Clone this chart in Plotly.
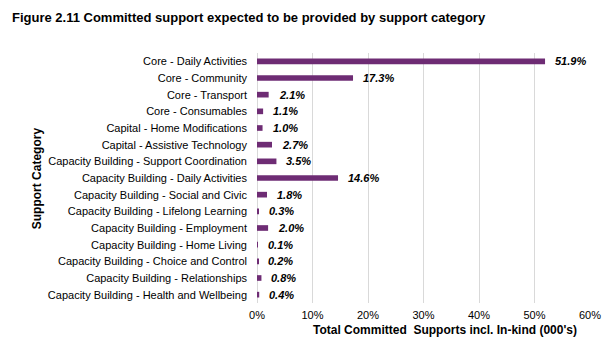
import plotly.graph_objects as go

categories = [
    "Core - Daily Activities",
    "Core - Community",
    "Core - Transport",
    "Core - Consumables",
    "Capital - Home Modifications",
    "Capital - Assistive Technology",
    "Capacity Building - Support Coordination",
    "Capacity Building - Daily Activities",
    "Capacity Building - Social and Civic",
    "Capacity Building - Lifelong Learning",
    "Capacity Building - Employment",
    "Capacity Building - Home Living",
    "Capacity Building - Choice and Control",
    "Capacity Building - Relationships",
    "Capacity Building - Health and Wellbeing",
]
values = [51.9, 17.3, 2.1, 1.1, 1.0, 2.7, 3.5, 14.6, 1.8, 0.3, 2.0, 0.1, 0.2, 0.8, 0.4]
x_ticks = [0, 10, 20, 30, 40, 50, 60]
x_tick_labels = ["0%", "10%", "20%", "30%", "40%", "50%", "60%"]

FONT = "Liberation Sans, Arial, sans-serif"
BAR = "#6E2C74"

fig = go.Figure()
fig.add_trace(go.Bar(
    x=values, y=categories, orientation="h",
    marker=dict(color=BAR, line=dict(width=0)),
    hoverinfo="skip",
))

for v, c in zip(values, categories):
    fig.add_annotation(
        x=v, y=c, xref="x", yref="y", text="<b><i>%.1f%%</i></b>",
        showarrow=False, xanchor="left", yanchor="middle", xshift=8,
        font=dict(family=FONT, size=11, color="#000000"),
    )
    fig.layout.annotations[-1].text = "<b><i>%.1f%%</i></b>" % v

fig.add_annotation(
    text="<b>Total Committed  Supports incl. In-kind (000's)</b>",
    xref="paper", yref="paper", x=0.565, y=-0.108, showarrow=False,
    xanchor="center", yanchor="middle",
    font=dict(family=FONT, size=12, color="#000000"),
)
fig.add_annotation(
    text="<b>Support Category</b>",
    xref="paper", yref="paper", x=-0.66, y=0.5, showarrow=False,
    xanchor="center", yanchor="middle", textangle=-90,
    font=dict(family=FONT, size=12, color="#000000"),
)

fig.update_layout(
    width=614, height=347,
    margin=dict(l=257, r=24, t=53, b=44),
    paper_bgcolor="white", plot_bgcolor="white",
    showlegend=False,
    bargap=0.66,
    title=dict(
        text="<b>Figure 2.11 Committed support expected to be provided by support category</b>",
        x=0, xref="paper", xanchor="left", y=0.95, yref="container", yanchor="middle",
        font=dict(family=FONT, size=13, color="#000000"),
        pad=dict(l=0),
    ),
    font=dict(family=FONT, size=11, color="#000000"),
)
fig.layout.title.x = 12 / 614
fig.layout.title.xref = "container"

fig.update_xaxes(
    range=[0, 60], tickvals=x_ticks, ticktext=x_tick_labels,
    showgrid=True, gridcolor="#D9D9D9", gridwidth=1,
    zeroline=True, zerolinecolor="#D9D9D9", zerolinewidth=1,
    showline=False, ticks="", ticklabelstandoff=4,
    tickfont=dict(family=FONT, size=11, color="#000000"),
    fixedrange=True,
)
fig.update_yaxes(
    categoryorder="array", categoryarray=categories, autorange="reversed",
    showgrid=False, zeroline=False, showline=False, ticks="",
    ticklabelstandoff=9,
    tickfont=dict(family=FONT, size=11, color="#000000"),
    fixedrange=True,
)

fig.write_html("out.html")
